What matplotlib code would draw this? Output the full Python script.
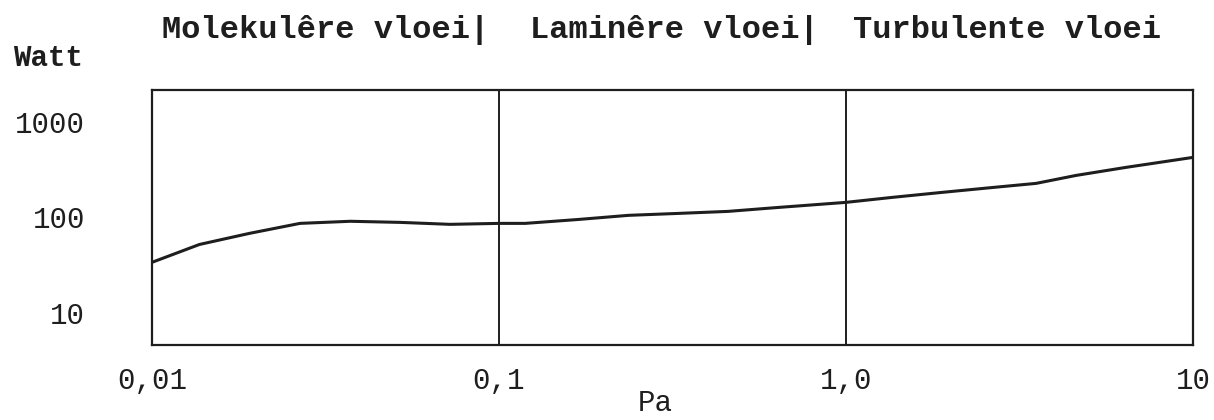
import matplotlib
matplotlib.use("Agg")
import matplotlib.pyplot as plt
import numpy as np

# druk (Pa) en vermogen (Watt)
druk = [0.01, 0.0137, 0.0191, 0.0267, 0.0373, 0.0519, 0.0723, 0.1, 0.119,
        0.169, 0.236, 0.328, 0.457, 0.637, 1.0, 1.36, 1.90, 2.66, 3.53,
        4.60, 6.41, 10.0]
watt = [33.8, 52, 68, 86.5, 91, 88.6, 84.5, 86.5, 86.5,
        95, 105, 110, 115.5, 127, 143.6, 162, 183, 206, 227,
        275, 334, 425]

x_ticks = [0.01, 0.1, 1.0, 10]
x_labels = ["0,01", "0,1", "1,0", "10"]
y_ticks = [10, 100, 1000]
y_labels = ["10", "100", "1000"]
grenzen = [0.1, 1.0]
gebieden = ["Molekulêre vloei|", "Laminêre vloei|", "Turbulente vloei"]

plt.rcParams['font.family'] = ['Liberation Mono', 'DejaVu Sans Mono']
ink = "#1e1e1e"

fig = plt.figure(figsize=(12.14, 4.2), dpi=100)
ax = fig.add_axes([152/1214, 1 - 345/420, (1193-152)/1214, (345-90)/420])

ax.plot(druk, watt, color=ink, linewidth=2.2, solid_joinstyle="round")
for g in grenzen:
    ax.axvline(g, color=ink, linewidth=1.4)

ax.set_xscale("log")
ax.set_yscale("log")
ax.set_xlim(0.01, 10)
ax.set_ylim(4.6, 2160)

ax.set_xticks(x_ticks)
ax.set_xticklabels(x_labels)
ax.set_yticks(y_ticks)
ax.set_yticklabels(y_labels)
ax.minorticks_off()
ax.tick_params(axis="x", length=0, pad=16, labelsize=21, colors=ink)
ax.tick_params(axis="y", length=0, pad=48, labelsize=21, colors=ink)

for s in ax.spines.values():
    s.set_linewidth(1.6)
    s.set_color(ink)

# kopteksten boven de grafiek
for txt, xpos in zip(gebieden, [162, 530, 853]):
    fig.text(xpos/1214, 1 - 30/420, txt, ha="left", va="center",
             fontsize=23, fontweight="bold", color=ink)

fig.text(13/1214, 1 - 58/420, "Watt", ha="left", va="center",
         fontsize=21, fontweight="bold", color=ink)
fig.text(655/1214, 1 - 403/420, "Pa", ha="center", va="center",
         fontsize=21, color=ink)

fig.savefig("out.png", dpi=100, facecolor="white")
